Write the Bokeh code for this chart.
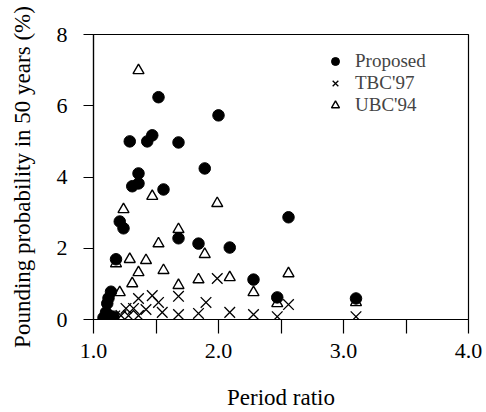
from bokeh.plotting import figure
from bokeh.models import Range1d, FixedTicker, Legend, LegendItem
from bokeh.embed import file_html
from bokeh.resources import INLINE

# Data
proposed_x = [1.08, 1.10, 1.11, 1.12, 1.14, 1.13, 1.16, 1.18, 1.21, 1.24, 1.29, 1.31, 1.36, 1.36,
              1.43, 1.47, 1.52, 1.56, 1.68, 1.68, 1.84, 1.89, 2.00, 2.09, 2.28, 2.47, 2.56, 3.10]
proposed_y = [0.05, 0.20, 0.45, 0.60, 0.78, 0.10, 0.08, 1.69, 2.75, 2.56, 5.00, 3.74, 3.82, 4.10,
              5.00, 5.17, 6.24, 3.65, 4.97, 2.28, 2.13, 4.24, 5.73, 2.02, 1.12, 0.62, 2.87, 0.59]

tbc_x = [1.17, 1.22, 1.26, 1.28, 1.32, 1.36, 1.36, 1.42, 1.47, 1.52, 1.55, 1.68, 1.68, 1.84,
         1.90, 1.99, 2.09, 2.28, 2.47, 2.56, 3.10]
tbc_y = [0.10, 0.11, 0.31, 0.11, 0.31, 0.11, 0.59, 0.28, 0.67, 0.48, 0.20, 0.65, 0.14, 0.17,
         0.48, 1.15, 0.20, 0.14, 0.08, 0.42, 0.08]

ubc_x = [1.18, 1.21, 1.24, 1.29, 1.31, 1.36, 1.36, 1.42, 1.47, 1.52, 1.56, 1.68, 1.68, 1.84,
         1.89, 1.99, 2.09, 2.28, 2.47, 2.56, 3.10]
ubc_y = [1.57, 0.76, 3.09, 1.69, 1.01, 6.99, 1.32, 1.66, 3.46, 2.13, 1.38, 2.53, 0.96, 1.12,
         1.83, 3.26, 1.18, 0.76, 0.45, 1.29, 0.48]

x_ticks = [1, 2, 3, 4]
x_minor = [1.5, 2.5, 3.5]
y_ticks = [0, 2, 4, 6, 8]

FONT = "Liberation Serif"

p = figure(width=486, height=412, output_backend="svg", toolbar_location=None,
           x_range=Range1d(1, 4), y_range=Range1d(0, 8),
           min_border_left=93, min_border_right=18, min_border_top=34, min_border_bottom=93)
p.background_fill_color = "white"
p.border_fill_color = "white"
p.grid.visible = False
p.outline_line_color = "black"
p.outline_line_width = 1.2

r_ubc = p.scatter(ubc_x, ubc_y, marker="triangle", size=11, fill_color="white",
                  line_color="black", line_width=1.4)
r_tbc = p.scatter(tbc_x, tbc_y, marker="x", size=15, line_color="black", line_width=1.3)
r_prop = p.scatter(proposed_x, proposed_y, marker="circle", size=11.5, fill_color="black",
                   line_color="black")

xa = p.xaxis[0]
xa.ticker = FixedTicker(ticks=x_ticks, minor_ticks=x_minor)
xa.major_label_overrides = {1: "1.0", 2: "2.0", 3: "3.0", 4: "4.0"}
xa.major_tick_out = 14
xa.major_tick_in = 0
xa.minor_tick_out = 14
xa.minor_tick_in = 0
xa.axis_label = "Period ratio"

ya = p.yaxis[0]
ya.ticker = FixedTicker(ticks=y_ticks, minor_ticks=[])
ya.major_tick_out = 10
ya.major_tick_in = 0
ya.axis_label = "Pounding probability in 50 years (%)"

for ax in (xa, ya):
    ax.axis_line_color = "black"
    ax.axis_line_width = 1.2
    ax.major_tick_line_color = "black"
    ax.major_tick_line_width = 1.2
    ax.minor_tick_line_color = "black"
    ax.minor_tick_line_width = 1.2
    ax.major_label_text_font = FONT
    ax.major_label_text_font_size = "22px"
    ax.major_label_text_color = "black"
    ax.axis_label_text_font = FONT
    ax.axis_label_text_font_size = "23px"
    ax.axis_label_text_font_style = "normal"
    ax.axis_label_text_color = "black"

xa.major_label_standoff = 10
xa.axis_label_standoff = 24
ya.major_label_standoff = 16
ya.axis_label_standoff = 19

legend_rows = [("Proposed", r_prop, 247), ("TBC'97", r_tbc, 225), ("UBC'94", r_ubc, 203)]
for label, rend, vy in legend_rows:
    lg = Legend(items=[LegendItem(label=label, renderers=[rend])],
                location=(232, vy), border_line_color=None, background_fill_alpha=0,
                padding=0, margin=0, spacing=0, glyph_width=20, glyph_height=20,
                label_height=20, label_standoff=10,
                label_text_font=FONT, label_text_font_size="19px")
    p.add_layout(lg, "center")

open("out.html", "w").write(file_html(p, INLINE))
